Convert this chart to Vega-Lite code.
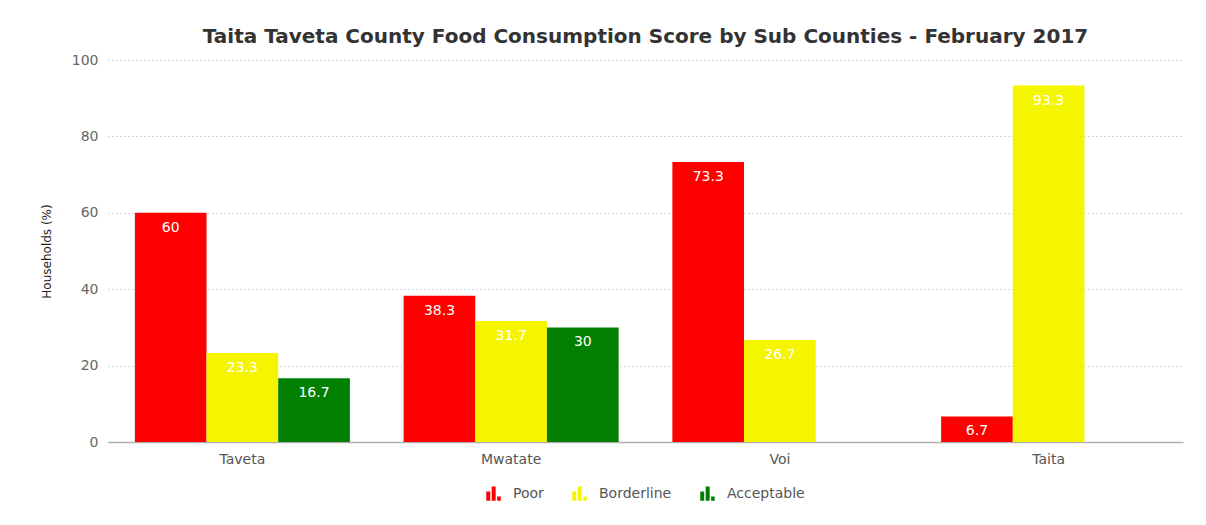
{
  "$schema": "https://vega.github.io/schema/vega-lite/v6.json",
  "width": 1075,
  "height": 382,
  "autosize": {"type": "none"},
  "padding": {"left": 108, "top": 60, "right": 23, "bottom": 83},
  "background": "white",
  "title": {
    "text": "Taita Taveta County Food Consumption Score by Sub Counties - February 2017",
    "font": "DejaVu Sans",
    "fontSize": 20,
    "fontWeight": "bold",
    "color": "#333333",
    "anchor": "middle",
    "offset": 6
  },
  "data": {
    "values": [
      {"county": "Taveta", "category": "Poor", "value": 60},
      {"county": "Taveta", "category": "Borderline", "value": 23.3},
      {"county": "Taveta", "category": "Acceptable", "value": 16.7},
      {"county": "Mwatate", "category": "Poor", "value": 38.3},
      {"county": "Mwatate", "category": "Borderline", "value": 31.7},
      {"county": "Mwatate", "category": "Acceptable", "value": 30},
      {"county": "Voi", "category": "Poor", "value": 73.3},
      {"county": "Voi", "category": "Borderline", "value": 26.7},
      {"county": "Taita", "category": "Poor", "value": 6.7},
      {"county": "Taita", "category": "Borderline", "value": 93.3}
    ]
  },
  "encoding": {
    "x": {
      "field": "county",
      "type": "nominal",
      "sort": ["Taveta", "Mwatate", "Voi", "Taita"],
      "scale": {"paddingInner": 0.2, "paddingOuter": 0.1},
      "axis": {
        "title": null,
        "labelAngle": 0,
        "ticks": false,
        "labelPadding": 10,
        "labelFont": "DejaVu Sans",
        "labelFontSize": 14,
        "labelColor": "#555555",
        "domainColor": "#b0b0b0",
        "domainWidth": 1.5
      }
    },
    "xOffset": {
      "field": "category",
      "type": "nominal",
      "sort": ["Poor", "Borderline", "Acceptable"],
      "scale": {"paddingInner": 0, "paddingOuter": 0}
    },
    "y": {
      "field": "value",
      "type": "quantitative",
      "scale": {"domain": [0, 100]},
      "axis": {
        "title": "Households (%)",
        "titleFont": "DejaVu Sans",
        "titleFontSize": 12,
        "titleFontWeight": "normal",
        "titleColor": "#222222",
        "titlePadding": 18,
        "values": [0, 20, 40, 60, 80, 100],
        "domain": false,
        "ticks": false,
        "labelPadding": 10,
        "labelFont": "DejaVu Sans",
        "labelFontSize": 14,
        "labelColor": "#666666",
        "gridColor": "#b0b0b0",
        "gridDash": [1, 3],
        "gridWidth": 1
      }
    }
  },
  "layer": [
    {
      "mark": {"type": "bar"},
      "encoding": {
        "color": {
          "field": "category",
          "type": "nominal",
          "sort": ["Poor", "Borderline", "Acceptable"],
          "scale": {
            "domain": ["Poor", "Borderline", "Acceptable"],
            "range": ["#ff0000", "#f5f500", "#007f00"]
          },
          "legend": {
            "title": null,
            "orient": "bottom",
            "direction": "horizontal",
            "offset": 20,
            "symbolType": "M-1,-0.3H-0.45V1H-1Z M-0.25,-1H0.3V1H-0.25Z M0.5,0.4H1V1H0.5Z",
            "symbolSize": 210,
            "symbolStrokeWidth": 0,
            "labelFont": "DejaVu Sans",
            "labelFontSize": 14,
            "labelColor": "#555555",
            "labelOffset": 12,
            "columnPadding": 28
          }
        }
      }
    },
    {
      "mark": {
        "type": "text",
        "baseline": "middle",
        "dy": 15,
        "color": "white",
        "font": "DejaVu Sans",
        "fontSize": 14
      },
      "encoding": {
        "text": {"field": "value", "type": "quantitative"}
      }
    }
  ],
  "config": {
    "view": {"stroke": null},
    "legend": {"layout": {"bottom": {"anchor": "middle"}}}
  }
}
